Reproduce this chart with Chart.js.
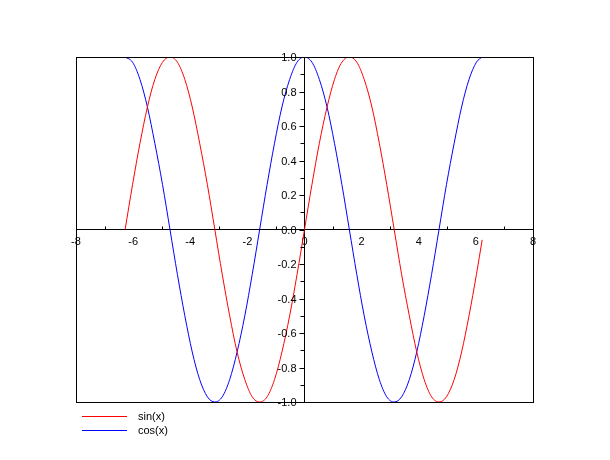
<!DOCTYPE html>
<html>
<head>
<meta charset="utf-8">
<script src="https://cdn.jsdelivr.net/npm/chart.js@4/dist/chart.umd.min.js"></script>
<style>
  body { margin: 0; background: #fff; }
  canvas { display: block; }
</style>
</head>
<body>
<canvas id="chart" width="610" height="460"></canvas>
<script>
// sample positions read along the x axis (about every 0.26)
const xValues = [-6.28, -6.02, -5.76, -5.50, -5.24, -4.97, -4.71, -4.45, -4.19, -3.93, -3.67, -3.40,
  -3.14, -2.88, -2.62, -2.36, -2.09, -1.83, -1.57, -1.31, -1.05, -0.79, -0.52, -0.26,
  0, 0.26, 0.52, 0.79, 1.05, 1.31, 1.57, 1.83, 2.09, 2.36, 2.62, 2.88,
  3.14, 3.40, 3.67, 3.93, 4.19, 4.45, 4.71, 4.97, 5.24, 5.50, 5.76, 6.02, 6.22];

const sinValues = [0, 0.26, 0.5, 0.71, 0.87, 0.97, 1, 0.97, 0.87, 0.71, 0.5, 0.26,
  0, -0.26, -0.5, -0.71, -0.87, -0.97, -1, -0.97, -0.87, -0.71, -0.5, -0.26,
  0, 0.26, 0.5, 0.71, 0.87, 0.97, 1, 0.97, 0.87, 0.71, 0.5, 0.26,
  0, -0.26, -0.5, -0.71, -0.87, -0.97, -1, -0.97, -0.87, -0.71, -0.5, -0.26, -0.06];

const cosValues = [1, 0.97, 0.87, 0.71, 0.5, 0.26, 0, -0.26, -0.5, -0.71, -0.87, -0.97,
  -1, -0.97, -0.87, -0.71, -0.5, -0.26, 0, 0.26, 0.5, 0.71, 0.87, 0.97,
  1, 0.97, 0.87, 0.71, 0.5, 0.26, 0, -0.26, -0.5, -0.71, -0.87, -0.97,
  -1, -0.97, -0.87, -0.71, -0.5, -0.26, 0, 0.26, 0.5, 0.71, 0.87, 0.97, 1];

const seriesLabels = ['sin(x)', 'cos(x)'];
const seriesColors = ['#ff0000', '#0000ff'];

const xTicks = [-8, -6, -4, -2, 0, 2, 4, 6, 8];
const xMinorTicks = [-7, -5, -3, -1, 1, 3, 5, 7];
const yMinorTicks = [-0.9, -0.7, -0.5, -0.3, -0.1, 0.1, 0.3, 0.5, 0.7, 0.9];

const FONT = '"Liberation Sans", Arial, sans-serif';

const toPoints = (ys) => xValues.map((x, i) => ({ x, y: ys[i] }));

const yLabel = (v) => (Math.abs(v) < 1e-9 ? 0 : v).toFixed(1);

// frame around plot, y tick labels, minor ticks and the legend below the plot
const extrasPlugin = {
  id: 'extras',
  afterDraw(chart) {
    const { ctx, chartArea: a, scales } = chart;
    const x0 = scales.x.getPixelForValue(0);
    const y0 = scales.y.getPixelForValue(0);
    ctx.save();
    ctx.strokeStyle = '#000';
    ctx.lineWidth = 1;
    ctx.strokeRect(Math.round(a.left) + 0.5, Math.round(a.top) + 0.5,
      Math.round(a.right - a.left), Math.round(a.bottom - a.top));

    ctx.beginPath();
    scales.y.ticks.forEach(t => {
      const py = Math.round(scales.y.getPixelForValue(t.value)) + 0.5;
      ctx.moveTo(x0 - 5, py);
      ctx.lineTo(x0, py);
    });
    yMinorTicks.forEach(v => {
      const py = Math.round(scales.y.getPixelForValue(v)) + 0.5;
      ctx.moveTo(x0 - 4, py);
      ctx.lineTo(x0, py);
    });
    xMinorTicks.forEach(v => {
      const px = Math.round(scales.x.getPixelForValue(v)) + 0.5;
      ctx.moveTo(px, y0 - 3);
      ctx.lineTo(px, y0);
    });
    ctx.stroke();

    ctx.font = '11px ' + FONT;
    ctx.fillStyle = '#000';
    ctx.textAlign = 'right';
    ctx.textBaseline = 'middle';
    scales.y.ticks.forEach(t => {
      ctx.fillText(yLabel(t.value), x0 - 8, scales.y.getPixelForValue(t.value) + 1);
    });

    // legend
    ctx.textAlign = 'left';
    chart.data.datasets.forEach((ds, i) => {
      const ly = 416.5 + i * 14;
      ctx.strokeStyle = ds.borderColor;
      ctx.beginPath();
      ctx.moveTo(82, ly);
      ctx.lineTo(127, ly);
      ctx.stroke();
      ctx.fillText(ds.label, 138, ly);
    });
    ctx.restore();
  }
};

new Chart(document.getElementById('chart'), {
  type: 'scatter',
  data: {
    datasets: [
      {
        label: seriesLabels[0],
        data: toPoints(sinValues),
        borderColor: seriesColors[0],
        backgroundColor: seriesColors[0],
        borderWidth: 1,
        showLine: true,
        pointRadius: 0,
        cubicInterpolationMode: 'monotone',
      },
      {
        label: seriesLabels[1],
        data: toPoints(cosValues),
        borderColor: seriesColors[1],
        backgroundColor: seriesColors[1],
        borderWidth: 1,
        showLine: true,
        pointRadius: 0,
        cubicInterpolationMode: 'monotone',
      },
    ],
  },
  options: {
    responsive: false,
    animation: false,
    layout: { padding: { left: 76, right: 77, top: 57, bottom: 58 } },
    plugins: {
      legend: { display: false },
      tooltip: { enabled: false },
    },
    scales: {
      x: {
        type: 'linear',
        position: { y: 0 },
        min: -8,
        max: 8,
        afterBuildTicks: (scale) => { scale.ticks = xTicks.map(v => ({ value: v })); },
        grid: { drawOnChartArea: false, drawTicks: false },
        border: { display: true, color: '#000', width: 1 },
        ticks: {
          color: '#000',
          padding: 6,
          maxRotation: 0,
          autoSkip: false,
          font: { family: FONT, size: 11 },
          callback: (v) => String(v),
        },
      },
      y: {
        type: 'linear',
        position: { x: 0 },
        min: -1,
        max: 1,
        grid: { drawOnChartArea: false, drawTicks: false },
        border: { display: true, color: '#000', width: 1 },
        ticks: {
          stepSize: 0.2,
          display: false,
        },
      },
    },
  },
  plugins: [extrasPlugin],
});
</script>
</body>
</html>
